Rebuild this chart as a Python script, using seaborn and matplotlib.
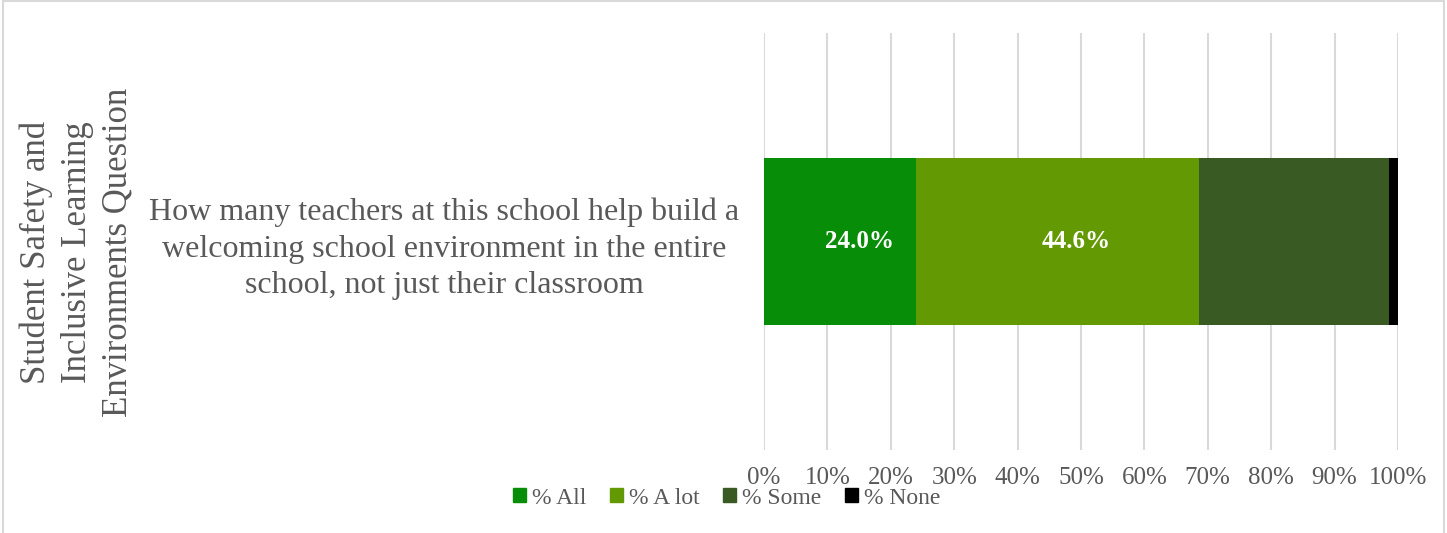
import matplotlib
matplotlib.use("Agg")
import matplotlib.pyplot as plt
import seaborn as sns
import numpy as np
import pandas as pd
from matplotlib.patches import Rectangle

categories = ["How many teachers at this school help build a\nwelcoming school environment in the entire\nschool, not just their classroom"]
series_names = ["% All", "% A lot", "% Some", "% None"]
pct_all = [24.0]
pct_alot = [44.6]
pct_some = [30.0]
pct_none = [1.4]
colors = ["#088D08", "#639A03", "#3A5A23", "#000000"]
xticks = [0, 10, 20, 30, 40, 50, 60, 70, 80, 90, 100]
axis_title = "Student Safety and\nInclusive Learning\nEnvironments Question"

sns.set_theme(style="white")
plt.rcParams["font.family"] = ["Liberation Serif", "DejaVu Serif"]

fig = plt.figure(figsize=(14.47, 5.33), dpi=100)
ax = fig.add_axes([764/1447, 1-450/533, (1398-764)/1447, (450-33)/533])

series = [pct_all, pct_alot, pct_some, pct_none]
cum = np.cumsum(np.array(series), axis=0)
df = pd.DataFrame({"cat": categories})
for i in reversed(range(len(series))):
    d = df.copy()
    d["val"] = cum[i]
    sns.barplot(data=d, x="val", y="cat", color=colors[i], width=0.4,
                orient="h", ax=ax, saturation=1, linewidth=0, zorder=3)

starts = [0] + list(cum[:-1, 0])
for i in range(2):
    v = series[i][0]
    ax.text(starts[i] + v/2 + 3, 0, f"{v:.1f}%", ha="center", va="center",
            color="white", fontsize=18, fontweight="bold", zorder=5)

ax.set_xlim(0, 100)
ax.set_ylim(0.5, -0.5)
ax.set_xticks(xticks)
ax.set_xticklabels([f"{t}%" for t in xticks], fontsize=18, color="#595959")
ax.tick_params(axis="x", length=0, pad=12)
ax.tick_params(axis="y", length=0, pad=18)
ax.set_yticks([0])
ax.set_yticklabels(categories, fontsize=23, color="#595959", ha="right",
                   multialignment="center", linespacing=1.35)
ax.set_xlabel("")
ax.set_ylabel("")
ax.grid(axis="x", color="#D9D9D9", linewidth=1.5, zorder=0)
ax.set_axisbelow(True)
for s in ax.spines.values():
    s.set_visible(False)

fig.text(77/1447, 1-252/533, axis_title, rotation=90, ha="center", va="center",
         multialignment="center", fontsize=25, color="#595959", linespacing=1.32)

handles = [Rectangle((0, 0), 1, 1, color=c) for c in colors]
fig.legend(handles, series_names, loc="center", bbox_to_anchor=(727/1447, 1-498/533),
           ncol=4, frameon=False, fontsize=17, labelcolor="#595959",
           handlelength=0.55, handleheight=0.55, handletextpad=0.25, columnspacing=1.0)

fig.patches.append(Rectangle((3/1447, -0.05), 1441/1447, 1-1/533+0.05,
                             transform=fig.transFigure, fill=False,
                             edgecolor="#D9D9D9", linewidth=1.5))

fig.savefig("out.png", dpi=100)
